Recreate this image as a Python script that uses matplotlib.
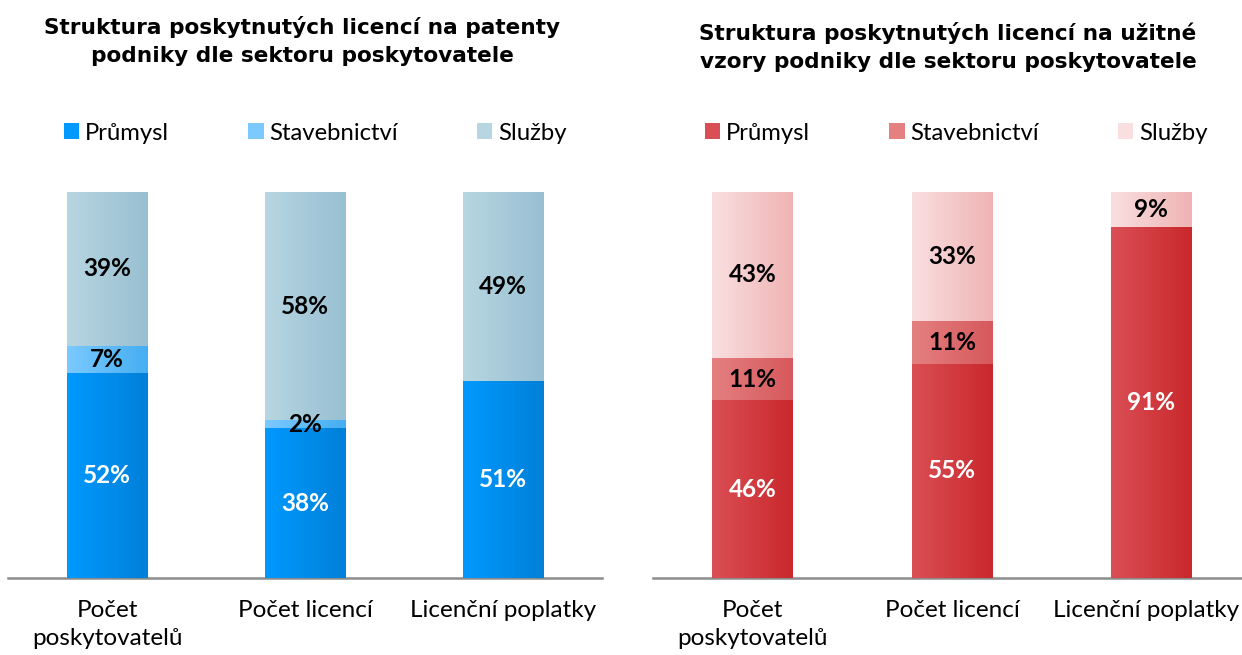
import numpy as np
import matplotlib
matplotlib.use("Agg")
import matplotlib.pyplot as plt
import matplotlib.transforms as mtransforms
from matplotlib.patches import Patch
from matplotlib.colors import LinearSegmentedColormap

plt.rcParams['font.family'] = ['Lato', 'DejaVu Sans']

categories = ["Počet\nposkytovatelů", "Počet licencí", "Licenční poplatky"]
series = ["Průmysl", "Stavebnictví", "Služby"]

# Left panel: patents
pat_prumysl = [52, 38, 51]
pat_staveb = [7, 2, 0]
pat_sluzby = [39, 58, 49]

# Right panel: utility models
uv_prumysl = [46, 55, 91]
uv_staveb = [11, 11, 0]
uv_sluzby = [43, 33, 9]

title_left = "Struktura poskytnutých licencí na patenty\npodniky dle sektoru poskytovatele"
title_right = "Struktura poskytnutých licencí na užitné\nvzory podniky dle sektoru poskytovatele"

blue_grad = [("#0099FF", "#0080D8"), ("#7CC9FF", "#45AEF2"), ("#B7D6E1", "#98BFD2")]
red_grad = [("#DA4F55", "#C9282C"), ("#E48080", "#D6585C"), ("#FADFE0", "#EFB3B4")]
label_colors = ["white", "black", "black"]

W, H = 1242, 655
fig = plt.figure(figsize=(W / 100, H / 100), dpi=100)

def px_axes(x0, x1, ytop, ybot):
    return fig.add_axes([x0 / W, 1 - ybot / H, (x1 - x0) / W, (ybot - ytop) / H])

def panel(ax, data, grads, title, title_x, title_y, leg_x):
    data = np.array(data, dtype=float)
    totals = data.sum(axis=0)
    norm = data / totals
    x = np.arange(len(categories))
    bottom = np.zeros(len(categories))
    for i, (name, vals, raw) in enumerate(zip(series, norm, data)):
        bars = ax.bar(x, vals, width=0.405, bottom=bottom, color=grads[i][1],
                      linewidth=0, zorder=2)
        cmap = LinearSegmentedColormap.from_list("g%d" % i, list(grads[i]))
        grad = np.linspace(0, 1, 256).reshape(1, -1)
        for b, v, r in zip(bars, vals, raw):
            if r <= 0:
                continue
            bx, by, bw, bh = b.get_x(), b.get_y(), b.get_width(), b.get_height()
            im = ax.imshow(grad, cmap=cmap, aspect='auto',
                           extent=(bx, bx + bw, by, by + bh), zorder=3,
                           interpolation='bilinear')
            im.set_clip_path(b)
            ax.text(bx + bw / 2, by + bh / 2, f"{int(r)}%", ha='center', va='center',
                    fontsize=17.5, fontweight='bold', color=label_colors[i], zorder=5)
        bottom += vals
    ax.set_xlim(-0.5, 2.5)
    ax.set_ylim(0, 1)
    for s in ['top', 'right', 'left']:
        ax.spines[s].set_visible(False)
    ax.spines['bottom'].set_color('#8C8C8C')
    ax.spines['bottom'].set_linewidth(1.8)
    ax.set_yticks([])
    ax.set_xticks(x)
    ax.set_xticklabels(categories, fontsize=17.5, color='black', linespacing=1.37)
    ax.tick_params(axis='x', length=0, pad=16)
    fig.text(title_x / W, 1 - title_y / H, title, ha='center', va='center',
             fontsize=15.6, fontweight='bold', linespacing=1.5,
             family=['DejaVu Sans'])
    handles = [Patch(facecolor=grads[i][0], edgecolor='none') for i in range(3)]
    fig.legend(handles, series, loc='center left', bbox_to_anchor=(leg_x / W, 1 - 133 / H),
               ncol=3, frameon=False, fontsize=17.2, handlelength=0.64, handleheight=0.64,
               handletextpad=0.25, columnspacing=3.3, borderaxespad=0, borderpad=0)

axL = px_axes(8, 602, 192, 578)
axR = px_axes(653, 1251, 192, 578)

panel(axL, [pat_prumysl, pat_staveb, pat_sluzby], blue_grad, title_left, 302, 41, 64)
panel(axR, [uv_prumysl, uv_staveb, uv_sluzby], red_grad, title_right, 948, 47, 705)

# keep the last right-hand category label inside the figure
last = axR.get_xticklabels()[-1]
last.set_transform(last.get_transform() + mtransforms.ScaledTranslation(-5 / 100, 0, fig.dpi_scale_trans))

fig.savefig("out.png", dpi=100)
